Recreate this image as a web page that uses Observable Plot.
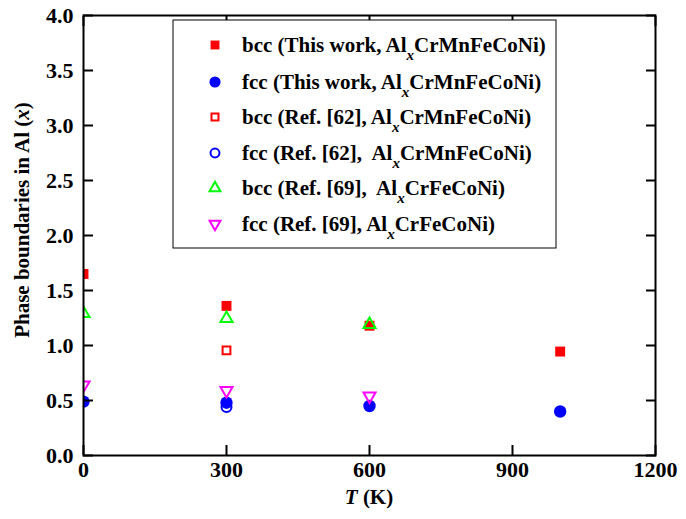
<!DOCTYPE html>
<html><head><meta charset="utf-8">
<script src="https://cdn.jsdelivr.net/npm/d3@7"></script>
<script src="https://cdn.jsdelivr.net/npm/@observablehq/plot@0.6"></script>
<style>body{margin:0;background:#fff;} #chart{position:relative;width:686px;height:519px;}</style>
</head><body><div id="chart"></div>
<script>
// Data
const bccThisT = [0, 300, 600, 1000];
const bccThisX = [1.65, 1.36, 1.18, 0.945];
const fccThisT = [0, 300, 600, 1000];
const fccThisX = [0.49, 0.48, 0.45, 0.40];
const bcc62T = [300];
const bcc62X = [0.955];
const fcc62T = [300];
const fcc62X = [0.44];
const bcc69T = [0, 300, 600];
const bcc69X = [1.29, 1.245, 1.19];
const fcc69T = [0, 300, 600];
const fcc69X = [0.64, 0.59, 0.54];

const xTicks = [0, 300, 600, 900, 1200];
const yTicks = [0, 0.5, 1, 1.5, 2, 2.5, 3, 3.5, 4];

const legendPre = ["bcc (This work, Al", "fcc (This work, Al", "bcc (Ref. [62], Al", "fcc (Ref. [62],  Al", "bcc (Ref. [69],  Al", "fcc (Ref. [69], Al"];
const legendPost = ["CrMnFeCoNi)", "CrMnFeCoNi)", "CrMnFeCoNi)", "CrMnFeCoNi)", "CrFeCoNi)", "CrFeCoNi)"];

const triDown = {draw(ctx, size) { const y = -Math.sqrt(size / (3 * Math.sqrt(3))); ctx.moveTo(0, -y * 2); ctx.lineTo(-Math.sqrt(3) * y, y); ctx.lineTo(Math.sqrt(3) * y, y); ctx.closePath(); }};

const series = [
  {T: bccThisT, X: bccThisX, symbol: "square", fill: "#ff0000", stroke: "none", r: 5.6},
  {T: fccThisT, X: fccThisX, symbol: "circle", fill: "#0000ff", stroke: "none", r: 6.2},
  {T: bcc62T, X: bcc62X, symbol: "square", fill: "none", stroke: "#ff0000", r: 4.4},
  {T: fcc62T, X: fcc62X, symbol: "circle", fill: "none", stroke: "#0000ff", r: 5.0},
  {T: bcc69T, X: bcc69X, symbol: "triangle", fill: "none", stroke: "#00ff00", r: 4.5},
  {T: fcc69T, X: fcc69X, symbol: triDown, fill: "none", stroke: "#ff00ff", r: 4.5}
];

const font = "'Liberation Serif', 'Times New Roman', serif";

const marks = [];
for (const s of series) {
  const data = s.T.map((t, i) => ({t, v: s.X[i]}));
  marks.push(Plot.dot(data, {x: "t", y: "v", symbol: () => s.symbol, fill: s.fill, stroke: s.stroke, strokeWidth: 2, r: s.r, clip: true}));
}
marks.push(
  Plot.axisY({anchor: "left", ticks: yTicks, tickSize: 10, dx: 10, strokeWidth: 2, tickFormat: () => "", label: null}),
  Plot.axisY({anchor: "right", ticks: yTicks, tickSize: 10, dx: -10, strokeWidth: 2, tickFormat: () => "", label: null}),
  Plot.axisX({anchor: "bottom", ticks: xTicks, tickSize: 10, dy: -10, strokeWidth: 2, tickFormat: () => "", label: null}),
  Plot.axisX({anchor: "top", ticks: xTicks, tickSize: 10, dy: 10, strokeWidth: 2, tickFormat: () => "", label: null}),
  Plot.axisY({anchor: "left", ticks: yTicks, tickSize: 0, tickPadding: 10, tickFormat: d3.format(".1f"), label: null, fontSize: 22}),
  Plot.axisX({anchor: "bottom", ticks: xTicks, tickSize: 0, tickPadding: 6, tickFormat: d => String(d), label: null, fontSize: 22}),
  Plot.frame({stroke: "#000", strokeWidth: 2})
);

const svg = Plot.plot({
  width: 686, height: 519,
  marginLeft: 83, marginRight: 31, marginTop: 15, marginBottom: 64,
  x: {domain: [0, 1200]},
  y: {domain: [0, 4]},
  style: {fontFamily: font, fontWeight: "bold", fontSize: "22px", color: "#000", background: "#fff"},
  marks
});
document.getElementById("chart").appendChild(svg);

const sel = d3.select(svg);
// axis labels
const xl = sel.append("text").attr("x", 369).attr("y", 504).attr("text-anchor", "middle")
  .style("font-family", font).style("font-weight", "bold").style("font-size", "21px");
xl.append("tspan").style("font-style", "italic").text("T");
xl.append("tspan").text(" (K)");
const yl = sel.append("text").attr("transform", "translate(29,220) rotate(-90)").attr("text-anchor", "middle")
  .style("font-family", font).style("font-weight", "bold").style("font-size", "21px");
yl.append("tspan").text("Phase boundaries in Al (");
yl.append("tspan").style("font-style", "italic").text("x");
yl.append("tspan").text(")");

// legend
const lg = sel.append("g");
lg.append("rect").attr("x", 173).attr("y", 20).attr("width", 383).attr("height", 228)
  .attr("fill", "#fff").attr("stroke", "#000").attr("stroke-width", 1);
const rowY = [45, 82, 117, 153, 188, 224];
series.forEach((s, i) => {
  const symType = typeof s.symbol === "string" ? {square: d3.symbolSquare, circle: d3.symbolCircle, triangle: d3.symbolTriangle}[s.symbol] : s.symbol;
  lg.append("path").attr("transform", `translate(215,${rowY[i]})`)
    .attr("d", d3.symbol(symType, Math.PI * s.r * s.r * 0.8)())
    .attr("fill", s.fill).attr("stroke", s.stroke).attr("stroke-width", 2);
  const t = lg.append("text").attr("x", 242).attr("y", rowY[i] + 7).attr("text-anchor", "start")
    .style("font-family", font).style("font-weight", "bold").style("font-size", "21px").style("white-space", "pre");
  t.append("tspan").text(legendPre[i]);
  t.append("tspan").attr("dy", 8).style("font-style", "italic").style("font-size", "15px").text("x");
  t.append("tspan").attr("dy", -8).text(legendPost[i]);
});
</script></body></html>
